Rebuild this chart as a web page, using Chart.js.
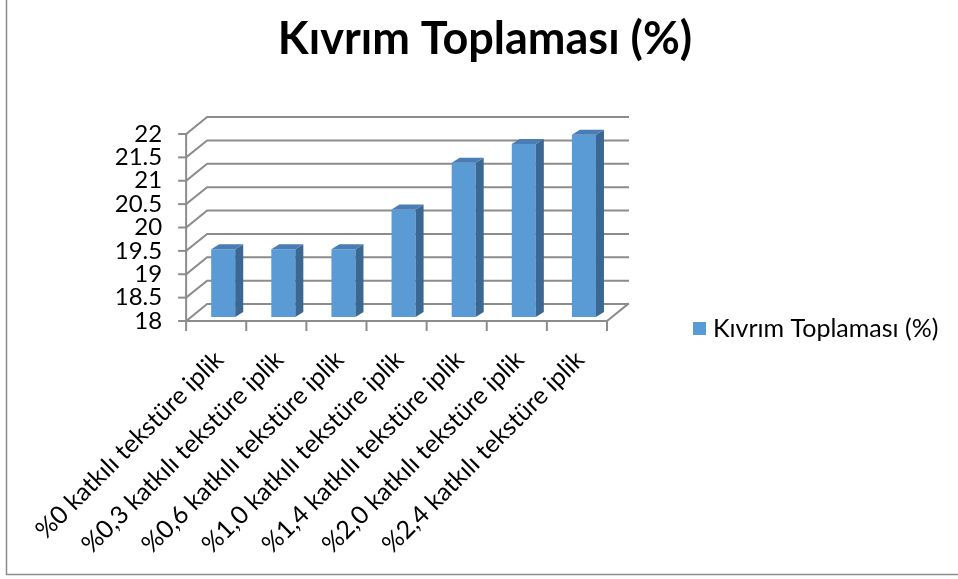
<!DOCTYPE html>
<html>
<head>
<meta charset="utf-8">
<title>Kıvrım Toplaması (%)</title>
<script src="https://cdn.jsdelivr.net/npm/chart.js@4.4.1/dist/chart.umd.min.js"></script>
<style>
  html, body { margin: 0; padding: 0; background: #ffffff; overflow: hidden; }
  canvas { display: block; }
</style>
</head>
<body>
<canvas id="chart" width="958" height="579"></canvas>
<script>
// data
const categories = [
  "%0 katkılı tekstüre iplik",
  "%0,3 katkılı tekstüre iplik",
  "%0,6 katkılı tekstüre iplik",
  "%1,0 katkılı tekstüre iplik",
  "%1,4 katkılı tekstüre iplik",
  "%2,0 katkılı tekstüre iplik",
  "%2,4 katkılı tekstüre iplik"
];
const seriesName = "Kıvrım Toplaması (%)";
const kivrimValues = [19.45, 19.45, 19.45, 20.3, 21.3, 21.7, 21.9];
const yMin = 18;
const yMax = 22;
const yStep = 0.5;
const chartTitle = "Kıvrım Toplaması (%)";

const FONT = "Lato, 'Open Sans', sans-serif";
const barFront = "#5B9BD5";
const barSide = "#3B6793";
const barTop = "#4A7DB5";
const gridColor = "#8C8C8C";

// fake 3d: wall depth and bar depth
const wallDX = 21, wallDY = -17;
const barShiftX = 7, barShiftY = -4;
const barDX = 8, barDY = -5;

const fake3d = {
  id: "fake3d",
  beforeDatasetsDraw(chart) {
    const ctx = chart.ctx;
    const a = chart.chartArea;
    const y = chart.scales.y;
    ctx.save();
    ctx.strokeStyle = gridColor;
    ctx.lineWidth = 2;
    ctx.lineCap = "square";
    y.ticks.forEach(t => {
      const py = y.getPixelForValue(t.value);
      ctx.beginPath();
      ctx.moveTo(a.left, py);
      ctx.lineTo(a.left + wallDX, py + wallDY);
      ctx.lineTo(a.right + wallDX, py + wallDY);
      ctx.stroke();
      ctx.beginPath();
      ctx.moveTo(a.left - 7, py);
      ctx.lineTo(a.left, py);
      ctx.stroke();
    });
    // front axis + floor
    ctx.beginPath();
    ctx.moveTo(a.left, a.top);
    ctx.lineTo(a.left, a.bottom);
    ctx.lineTo(a.right, a.bottom);
    ctx.lineTo(a.right + wallDX, a.bottom + wallDY);
    ctx.stroke();
    // category tick marks
    const n = categories.length;
    for (let i = 0; i <= n; i++) {
      const px = a.left + i * (a.right - a.left) / n;
      ctx.beginPath();
      ctx.moveTo(px, a.bottom);
      ctx.lineTo(px, a.bottom + 9);
      ctx.stroke();
    }
    ctx.restore();

    ctx.save();
    ctx.translate(barShiftX, barShiftY);
  },
  afterDatasetsDraw(chart) {
    const ctx = chart.ctx;
    ctx.restore();
    const meta = chart.getDatasetMeta(0);
    ctx.save();
    meta.data.forEach(el => {
      const p = el.getProps(["x", "y", "base", "width"], true);
      const left = p.x - p.width / 2 + barShiftX;
      const right = p.x + p.width / 2 + barShiftX;
      const top = p.y + barShiftY;
      const bottom = p.base + barShiftY;
      // side
      ctx.fillStyle = barSide;
      ctx.beginPath();
      ctx.moveTo(right, top);
      ctx.lineTo(right + barDX, top + barDY);
      ctx.lineTo(right + barDX, bottom + barDY);
      ctx.lineTo(right, bottom);
      ctx.closePath();
      ctx.fill();
      // top
      ctx.fillStyle = barTop;
      ctx.beginPath();
      ctx.moveTo(left, top);
      ctx.lineTo(left + barDX, top + barDY);
      ctx.lineTo(right + barDX, top + barDY);
      ctx.lineTo(right, top);
      ctx.closePath();
      ctx.fill();
    });
    ctx.restore();
  },
  afterDraw(chart) {
    const ctx = chart.ctx;
    ctx.save();
    // title
    ctx.fillStyle = "#000000";
    ctx.font = "bold 45px " + FONT;
    ctx.textAlign = "center";
    ctx.textBaseline = "alphabetic";
    ctx.fillText(chartTitle, 485, 54);
    // legend
    ctx.fillStyle = barFront;
    ctx.fillRect(693, 322, 13, 13);
    ctx.fillStyle = "#000000";
    ctx.font = "25px " + FONT;
    ctx.textAlign = "left";
    ctx.textBaseline = "middle";
    ctx.fillText(seriesName, 713, 329);
    // outer frame
    ctx.strokeStyle = "#8C8C8C";
    ctx.lineWidth = 1.5;
    ctx.beginPath();
    ctx.moveTo(6.5, 0);
    ctx.lineTo(6.5, 574.5);
    ctx.lineTo(958, 574.5);
    ctx.stroke();
    ctx.restore();
  }
};

new Chart(document.getElementById("chart"), {
  type: "bar",
  data: {
    labels: categories,
    datasets: [{
      label: seriesName,
      data: kivrimValues,
      base: yMin,
      backgroundColor: barFront,
      borderWidth: 0,
      categoryPercentage: 1,
      barPercentage: 0.4
    }]
  },
  options: {
    responsive: false,
    devicePixelRatio: 1,
    animation: false,
    layout: { padding: { left: 0, top: 134, right: 351, bottom: 0 } },
    plugins: {
      legend: { display: false },
      title: { display: false },
      tooltip: { enabled: false }
    },
    scales: {
      x: {
        offset: true,
        grid: { display: false, drawTicks: false },
        border: { display: false },
        ticks: {
          color: "#000000",
          font: { family: FONT, size: 25 },
          minRotation: 45,
          maxRotation: 45,
          padding: 24,
          labelOffset: 3,
          autoSkip: false
        },
        afterFit(scale) { scale.height = 258; }
      },
      y: {
        min: yMin,
        max: yMax,
        grid: { display: false, drawTicks: false },
        border: { display: false },
        ticks: {
          stepSize: yStep,
          autoSkip: false,
          maxTicksLimit: 20,
          color: "#000000",
          font: { family: FONT, size: 24, lineHeight: 0.8 },
          padding: 24,
          callback: v => String(v)
        },
        afterFit(scale) { scale.width = 184; }
      }
    }
  },
  plugins: [fake3d]
});
</script>
</body>
</html>
